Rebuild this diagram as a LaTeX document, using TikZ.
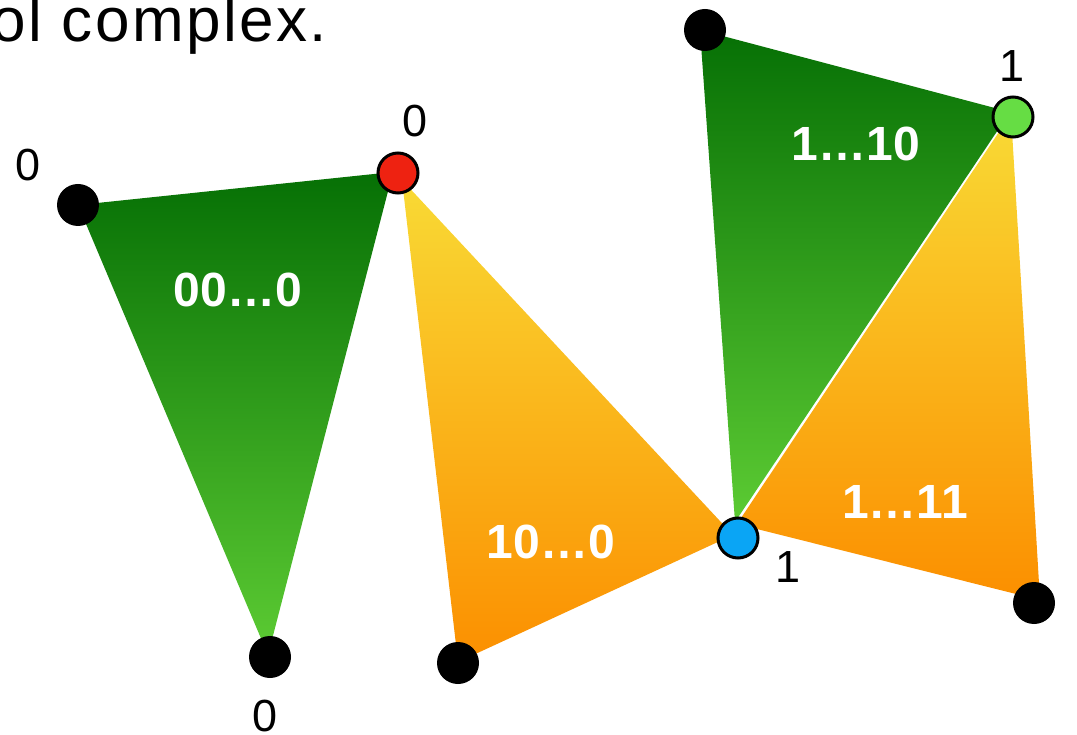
\documentclass[tikz,border=0pt]{standalone}
\usepackage{fontspec}
\setmainfont{Liberation Sans}
\newfontfamily\titlefont[LetterSpace=4]{Liberation Sans}
\definecolor{dkgreen}{HTML}{067005}
\definecolor{ltgreen}{HTML}{5CCB33}
\definecolor{yel}{HTML}{F9DA35}
\definecolor{org}{HTML}{FB8F00}
\definecolor{dotred}{HTML}{EE2211}
\definecolor{dotblue}{HTML}{0AA5F5}
\definecolor{dotgreen}{HTML}{66DD44}
\begin{document}
\begin{tikzpicture}[x=1pt,y=-1pt,
  vdot/.style={circle,fill=black,inner sep=0pt,minimum size=42pt},
  cdot/.style={circle,draw=black,line width=3pt,inner sep=0pt,minimum size=40pt},
  lab/.style={font=\fontsize{45}{48}\selectfont,text=black},
  inlab/.style={font=\fontsize{48}{52}\selectfont\bfseries,text=white},
  greentri/.style={top color=dkgreen,bottom color=ltgreen},
  orangetri/.style={top color=yel,bottom color=org}]
\useasboundingbox (0,0) rectangle (1077,735);
\clip (0,0) rectangle (1077,735);
% triangle corners
\coordinate (a1) at (78,205); \coordinate (a2) at (393,172); \coordinate (a3) at (268,655);
\coordinate (b1) at (402,180); \coordinate (b2) at (733,535); \coordinate (b3) at (458,662);
\coordinate (c1) at (700,30); \coordinate (c2) at (1010,112); \coordinate (c3) at (735,522);
\coordinate (d1) at (1011,114); \coordinate (d2) at (737,524); \coordinate (d3) at (1040,600);
% triangles
\shade[greentri] (a1) -- (a2) -- (a3) -- cycle;
\shade[orangetri] (b1) -- (b2) -- (b3) -- cycle;
\shade[greentri] (c1) -- (c2) -- (c3) -- cycle;
\shade[orangetri] (d1) -- (d2) -- (d3) -- cycle;
% inner labels
\node[inlab] (t1) at (238,290) {00…0};
\node[inlab] (t2) at (551,542) {10…0};
\node[inlab] (t3) at (856,144) {1…10};
\node[inlab] (t4) at (905,502) {1…11};
% dots
\node[vdot] (v1) at (78,205) {};
\node[cdot,fill=dotred] (v2) at (398,173) {};
\node[vdot] (v3) at (270,657) {};
\node[vdot] (v4) at (458,663) {};
\node[cdot,fill=dotblue] (v5) at (738,538) {};
\node[vdot] (v6) at (705,30) {};
\node[cdot,fill=dotgreen] (v7) at (1013,117) {};
\node[vdot] (v8) at (1034,603) {};
% vertex labels
\node[lab] (l1) at (28,165) {0};
\node[lab] (l2) at (415,121) {0};
\node[lab] (l3) at (265,716) {0};
\node[lab] (l4) at (1012,66) {1};
\node[lab] (l5) at (788,567) {1};
\node[lab] (l6) at (1087,634) {1};
% title fragment
\node[font=\titlefont\fontsize{62}{65}\selectfont,anchor=base west,inner sep=0pt] (title) at (-9,42) {ol complex.};
\end{tikzpicture}
\end{document}
